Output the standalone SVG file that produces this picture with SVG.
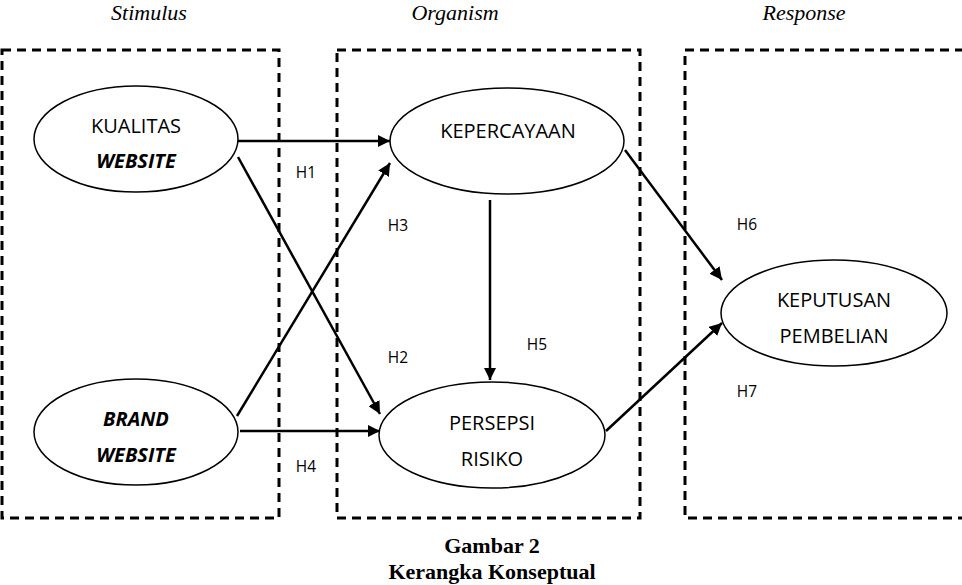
<svg xmlns="http://www.w3.org/2000/svg" width="962" height="585" viewBox="0 0 962 585">
<style>
.box{fill:none;stroke:#000;stroke-width:3;stroke-dasharray:9,6}
.node{fill:#fff;stroke:#000;stroke-width:1.5}
.nt{font-family:"Open Sans","Liberation Sans",sans-serif;font-size:20px;text-anchor:middle;fill:#000}
.bi{font-weight:bold;font-style:italic}
.hd{font-family:"Liberation Serif",serif;font-style:italic;font-size:22px;text-anchor:middle}
.cap{font-family:"Liberation Serif",serif;font-weight:bold;font-size:22px;text-anchor:middle}
.lbl{font-family:"Open Sans","Liberation Sans",sans-serif;font-size:15.5px;text-anchor:middle}
.ed{stroke:#000;stroke-width:2.5;fill:none;marker-end:url(#ah)}
</style>
<defs>
<marker id="ah" viewBox="0 0 10 10" refX="10" refY="5" markerWidth="5" markerHeight="5" orient="auto" markerUnits="strokeWidth">
<path d="M0,0 L10,5 L0,10 z" fill="#000"/>
</marker>
</defs>
<rect width="962" height="585" fill="#fff"/>
<g id="headers">
<text class="hd" x="149" y="20">Stimulus</text>
<text class="hd" x="455" y="20">Organism</text>
<text class="hd" x="804" y="20">Response</text>
</g>
<g id="boxes">
<path class="box" d="M2,50 H279 V518 H2 Z"/>
<path class="box" d="M337,50 H640 V518 H337 Z"/>
<path class="box" d="M964,50 H685 V518 H964"/>
</g>
<g id="connectors">
<line class="ed" x1="238" y1="141" x2="390" y2="141"/>
<line class="ed" x1="238" y1="157" x2="380" y2="414"/>
<line class="ed" x1="237" y1="416" x2="390" y2="163"/>
<line class="ed" x1="240" y1="431" x2="380" y2="431"/>
<line class="ed" x1="490" y1="200" x2="490" y2="380"/>
<line class="ed" x1="625" y1="150" x2="722" y2="280"/>
<line class="ed" x1="606" y1="431" x2="722" y2="323"/>
</g>
<g id="labels">
<text class="lbl" x="306" y="178">H1</text>
<text class="lbl" x="398" y="231">H3</text>
<text class="lbl" x="398" y="363">H2</text>
<text class="lbl" x="306" y="472">H4</text>
<text class="lbl" x="537" y="350">H5</text>
<text class="lbl" x="747" y="230">H6</text>
<text class="lbl" x="747" y="397">H7</text>
</g>
<g id="kualitas">
<ellipse class="node" cx="136" cy="139" rx="102" ry="53"/>
<text class="nt" x="136" y="133">KUALITAS</text>
<text class="nt bi" x="136" y="168">WEBSITE</text>
</g>
<g id="brand">
<ellipse class="node" cx="136" cy="432" rx="102" ry="53"/>
<text class="nt bi" x="136" y="426">BRAND</text>
<text class="nt bi" x="136" y="462">WEBSITE</text>
</g>
<g id="kepercayaan">
<ellipse class="node" cx="507" cy="141" rx="117" ry="53"/>
<text class="nt" x="508" y="138">KEPERCAYAAN</text>
</g>
<g id="persepsi">
<ellipse class="node" cx="492" cy="435" rx="113" ry="53"/>
<text class="nt" x="492" y="430">PERSEPSI</text>
<text class="nt" x="492" y="466">RISIKO</text>
</g>
<g id="keputusan">
<ellipse class="node" cx="834" cy="313" rx="113" ry="53"/>
<text class="nt" x="834" y="307">KEPUTUSAN</text>
<text class="nt" x="834" y="343">PEMBELIAN</text>
</g>
<g id="caption">
<text class="cap" x="492" y="553">Gambar 2</text>
<text class="cap" x="492" y="579">Kerangka Konseptual</text>
</g>
</svg>
